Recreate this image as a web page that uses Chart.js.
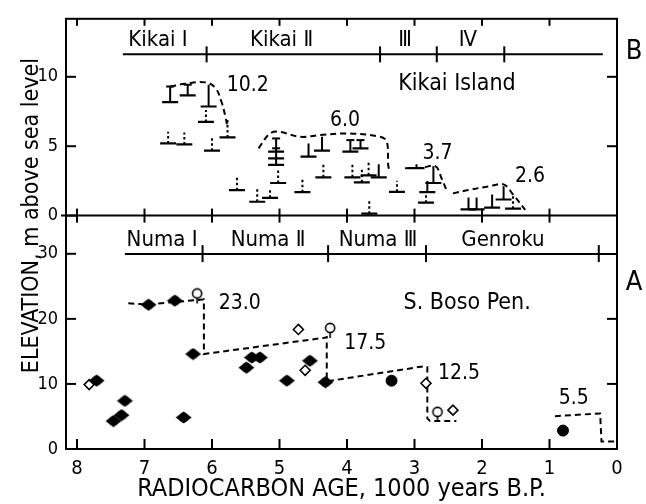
<!DOCTYPE html>
<html>
<head>
<meta charset="utf-8">
<script src="https://cdn.jsdelivr.net/npm/chart.js@4.4.0/dist/chart.umd.min.js"></script>
<style>
html, body { margin: 0; padding: 0; background: #fff; }
</style>
</head>
<body>
<canvas id="chart" width="646" height="504"></canvas>
<script>
'use strict';

const FONT = "'DejaVu Sans Condensed', 'Liberation Sans Narrow', sans-serif";

// ─── axes ─────────────────────────────────────────────
const ageTicks = [0, 1, 2, 3, 4, 5, 6, 7, 8];
const kikaiTicks = [0, 5, 10];
const bosoTicks = [0, 10, 20, 30];

// ─── B: Kikai Island samples (age, base elevation, top of range) ──
const kikaiAge  = [6.62, 6.36, 6.05, 6.09, 6.65, 6.41, 6.00, 5.77, 5.05, 5.05, 5.05, 5.02, 5.14, 5.33, 5.63, 4.66, 4.57, 4.37,
                   3.95, 3.80, 4.35, 3.92, 3.78, 3.68, 3.53, 3.26, 3.67, 2.97, 2.72, 2.81, 2.83, 2.20, 2.08, 1.85, 1.68, 1.54];
const kikaiLow  = [8.18, 8.66, 7.86, 6.75, 5.20, 5.13, 4.68, 5.63, 4.61, 4.13, 3.66, 2.35, 1.28, 1.00, 1.83, 1.69, 4.25, 4.68,
                   4.61, 4.85, 2.76, 2.76, 2.40, 2.90, 2.76, 1.71, 0.14, 3.42, 2.35, 1.69, 0.93, 0.45, 0.45, 0.57, 1.16, 0.50];
const kikaiHigh = [9.30, 9.43, 9.43, 7.60, 6.05, 5.99, 5.60, 6.90, 5.56, 4.85, 4.13, 3.42, 2.00, 1.92, 2.87, 2.71, 5.20, 5.68,
                   5.44, 5.44, 3.78, 3.78, 3.30, 3.85, 3.70, 2.52, 1.16, 3.70, 3.56, 2.50, 1.64, 1.30, 1.30, 1.52, 2.12, 1.40];
const kikaiSolid = [1, 1, 1, 0, 0, 0, 0, 0, 1, 1, 1, 0, 0, 0, 0, 0, 1, 1,
                    1, 1, 0, 0, 0, 0, 1, 0, 0, 1, 1, 1, 0, 1, 1, 1, 1, 0];
const kikaiCap   = [1, 1, 0, 0, 0, 0, 0, 0, 1, 1, 0, 0, 0, 0, 0, 0, 0, 0,
                    1, 1, 0, 0, 0, 0, 0, 0, 0, 0, 0, 0, 0, 0, 0, 0, 0, 0];

// terrace envelopes, Kikai
const env102Age = [6.62, 6.40, 6.10, 5.95, 5.86, 5.80, 5.77];
const env102Elv = [9.30, 9.50, 9.60, 9.20, 8.20, 7.10, 6.30];
const env60Age  = [5.31, 5.14, 5.00, 4.70, 4.40, 4.00, 3.51, 3.41, 3.39, 3.37];
const env60Elv  = [4.85, 5.92, 6.04, 5.68, 5.80, 5.92, 5.68, 5.33, 3.66, 3.19];
const env37Age  = [3.14, 2.89, 2.69, 2.60, 2.52];
const env37Elv  = [3.42, 3.45, 3.56, 2.70, 1.76];
const env26Age  = [2.43, 2.20, 1.90, 1.68, 1.54, 1.36];
const env26Elv  = [1.60, 1.85, 2.10, 2.25, 1.52, 0.41];

// ─── A: S. Boso Peninsula ─────────────────────────────
const bosoFilledAge = [6.94, 6.55, 6.28, 5.49, 5.41, 5.29, 4.89, 4.55, 4.32, 7.71, 7.29, 7.46, 7.34, 6.42];
const bosoFilledElv = [22.16, 22.8, 14.6, 12.5, 14.06, 14.06, 10.5, 13.56, 10.26, 10.5, 7.4, 4.3, 5.2, 4.85];
const bosoDotAge = [3.34, 0.80];
const bosoDotElv = [10.5, 2.83];
const bosoCircleAge = [6.22, 4.25, 2.66];
const bosoCircleElv = [23.9, 18.6, 5.7];
const bosoDiamondAge = [7.82, 4.72, 4.62, 2.83, 2.43];
const bosoDiamondElv = [9.9, 18.37, 12.1, 10.1, 5.97];

const stepAge = [7.24, 6.94, 6.55, 6.22, 6.12, 6.12, 4.33, 4.30, 4.30, 2.87, 2.81, 2.81, 2.77, 2.38];
const stepElv = [22.4, 22.2, 22.6, 22.9, 23.0, 14.6, 17.1, 17.2, 10.4, 12.7, 12.6, 4.7, 4.3, 4.3];
const step55Age = [0.92, 0.25, 0.23, 0.00];
const step55Elv = [5.05, 5.46, 1.15, 1.15];

// ─── annotations ──────────────────────────────────────
const kikaiPeriods = ['Kikai Ⅰ', 'Kikai Ⅱ', 'Ⅲ', 'Ⅳ'];
const kikaiPeriodAge = [6.80, 4.97, 3.14, 2.21];
const kikaiBounds = [6.08, 3.51, 2.67, 1.67];
const kikaiSpan = [7.32, 0.21];
const bosoPeriods = ['Numa Ⅰ', 'Numa Ⅱ', 'Numa Ⅲ', 'Genroku'];
const bosoPeriodAge = [6.74, 5.17, 3.54, 1.69];
const bosoBounds = [6.14, 4.28, 2.83, 0.27];
const bosoSpan = [7.29, 0.0];

const kikaiLevels = ['10.2', '6.0', '3.7', '2.6'];
const kikaiLevelAge = [5.47, 4.03, 2.66, 1.29];
const kikaiLevelElv = [9.34, 6.86, 4.49, 2.85];
const bosoLevels = ['23.0', '17.5', '12.5', '5.5'];
const bosoLevelAge = [5.59, 3.73, 2.34, 0.64];
const bosoLevelElv = [22.4, 16.14, 11.6, 7.8];

const pts = (xs, ys) => xs.map((x, i) => ({ x, y: ys[i] }));

// point glyphs
function blobGlyph() {
    const c = document.createElement('canvas');
    c.width = 17; c.height = 13;
    const g = c.getContext('2d');
    g.fillStyle = '#000';
    g.beginPath();
    g.moveTo(0.5, 6.5); g.lineTo(8.5, 0.5); g.lineTo(16.5, 6.5); g.lineTo(8.5, 12.5); g.closePath();
    g.fill();
    g.beginPath(); g.arc(8.5, 6.5, 5, 0, Math.PI * 2); g.fill();
    return c;
}
function circleStemGlyph() {
    const c = document.createElement('canvas');
    c.width = 14; c.height = 26;
    const g = c.getContext('2d');
    g.strokeStyle = '#000'; g.fillStyle = '#fff'; g.lineWidth = 1.6;
    g.beginPath(); g.arc(7, 13, 4.6, 0, Math.PI * 2); g.fill(); g.stroke();
    g.beginPath(); g.moveTo(7, 17.6); g.lineTo(7, 23); g.stroke();
    return c;
}

const dashLine = (data, yAxisID, tension) => ({
    type: 'scatter', data, yAxisID, showLine: true, tension,
    borderColor: '#000', borderWidth: 2, borderDash: [6, 4],
    pointRadius: 0, order: 5
});

const datasets = [
    dashLine(pts(env102Age, env102Elv), 'yB', 0.4),
    dashLine(pts(env60Age, env60Elv), 'yB', 0.35),
    dashLine(pts(env37Age, env37Elv), 'yB', 0.35),
    dashLine(pts(env26Age, env26Elv), 'yB', 0.35),
    dashLine(pts(stepAge, stepElv), 'yA', 0),
    dashLine(pts(step55Age, step55Elv), 'yA', 0),
    {
        label: 'kikai', data: pts(kikaiAge, kikaiLow), yAxisID: 'yB',
        pointStyle: 'line', pointRadius: 8, borderColor: '#000', borderWidth: 2.2, order: 1
    },
    {
        data: pts(bosoFilledAge, bosoFilledElv), yAxisID: 'yA',
        pointStyle: blobGlyph(), order: 1
    },
    {
        data: pts(bosoDotAge, bosoDotElv), yAxisID: 'yA',
        pointStyle: 'circle', pointRadius: 5.5, backgroundColor: '#000', borderColor: '#000', order: 1
    },
    {
        data: pts(bosoCircleAge, bosoCircleElv), yAxisID: 'yA',
        pointStyle: circleStemGlyph(), order: 1
    },
    {
        data: pts(bosoDiamondAge, bosoDiamondElv), yAxisID: 'yA',
        pointStyle: 'rectRot', pointRadius: 5, backgroundColor: '#fff', borderColor: '#000', borderWidth: 1.6, order: 1
    }
];

function line(ctx, x1, y1, x2, y2) {
    ctx.beginPath(); ctx.moveTo(x1, y1); ctx.lineTo(x2, y2); ctx.stroke();
}

const framePlugin = {
    id: 'frame',
    beforeDatasetsDraw(chart) {
        const { ctx, chartArea: a, scales } = chart;
        const x = scales.x, yA = scales.yA, yB = scales.yB;
        const mid = yB.getPixelForValue(0);
        ctx.save();
        ctx.strokeStyle = '#000';
        ctx.lineWidth = 2;
        ctx.strokeRect(a.left, a.top, a.right - a.left, a.bottom - a.top);
        line(ctx, a.left - 5, mid, a.right, mid);

        ageTicks.forEach(v => {
            const px = x.getPixelForValue(v);
            if (v === 0) return;
            line(ctx, px, a.bottom, px, a.bottom - 10);
            line(ctx, px, a.top, px, a.top + 7);
            line(ctx, px, mid - 7, px, mid + 7);
        });
        kikaiTicks.forEach(v => line(ctx, a.left, yB.getPixelForValue(v), a.left + 10, yB.getPixelForValue(v)));
        bosoTicks.forEach(v => line(ctx, a.left, yA.getPixelForValue(v), a.left + 10, yA.getPixelForValue(v)));
        [5, 10].forEach(v => line(ctx, a.right, yB.getPixelForValue(v), a.right - 10, yB.getPixelForValue(v)));
        [10, 20].forEach(v => line(ctx, a.right, yA.getPixelForValue(v), a.right - 10, yA.getPixelForValue(v)));

        // period rows
        const kY = yB.getPixelForValue(11.62);
        line(ctx, x.getPixelForValue(kikaiSpan[0]), kY, x.getPixelForValue(kikaiSpan[1]), kY);
        kikaiBounds.forEach(v => line(ctx, x.getPixelForValue(v), kY - 8, x.getPixelForValue(v), kY + 8));
        const bY = yA.getPixelForValue(29.95);
        line(ctx, x.getPixelForValue(bosoSpan[0]), bY, x.getPixelForValue(bosoSpan[1]), bY);
        bosoBounds.forEach(v => line(ctx, x.getPixelForValue(v), bY - 9, x.getPixelForValue(v), bY + 8));

        ctx.fillStyle = '#000';
        ctx.textAlign = 'center';
        ctx.textBaseline = 'middle';
        ctx.font = '22px ' + FONT;
        kikaiPeriods.forEach((t, i) => ctx.fillText(t, x.getPixelForValue(kikaiPeriodAge[i]), yB.getPixelForValue(12.62)));
        bosoPeriods.forEach((t, i) => ctx.fillText(t, x.getPixelForValue(bosoPeriodAge[i]), yA.getPixelForValue(32.08)));
        ctx.font = '23px ' + FONT;
        ctx.fillText('Kikai Island', x.getPixelForValue(2.37), yB.getPixelForValue(9.48));
        ctx.fillText('S. Boso Pen.', x.getPixelForValue(2.22), yA.getPixelForValue(22.36));

        ctx.font = '21px ' + FONT;
        kikaiLevels.forEach((t, i) => ctx.fillText(t, x.getPixelForValue(kikaiLevelAge[i]), yB.getPixelForValue(kikaiLevelElv[i])));
        bosoLevels.forEach((t, i) => ctx.fillText(t, x.getPixelForValue(bosoLevelAge[i]), yA.getPixelForValue(bosoLevelElv[i])));

        ctx.font = '27px ' + FONT;
        ctx.fillText('B', 634, yB.getPixelForValue(11.8));
        ctx.fillText('A', 634, yA.getPixelForValue(25.5));

        // vertical axis title, baseline just left of the tick labels
        ctx.translate(38, mid);
        ctx.rotate(-Math.PI / 2);
        ctx.textBaseline = 'alphabetic';
        ctx.font = '23px ' + FONT;
        ctx.fillText('ELEVATION, m above sea level', 0, 0);
        ctx.restore();
    },
    afterDatasetsDraw(chart) {
        // stems above each Kikai sample base
        const { ctx, scales } = chart;
        const yB = scales.yB, x = scales.x;
        ctx.save();
        ctx.strokeStyle = '#000';
        ctx.lineWidth = 2;
        kikaiAge.forEach((age, i) => {
            const px = x.getPixelForValue(age);
            const lo = yB.getPixelForValue(kikaiLow[i]);
            const hi = yB.getPixelForValue(kikaiHigh[i]);
            ctx.setLineDash(kikaiSolid[i] ? [] : [2.5, 2.5]);
            line(ctx, px, lo, px, hi);
            if (kikaiCap[i]) {
                ctx.setLineDash([]);
                line(ctx, px - 4, hi, px + 4, hi);
            }
        });
        ctx.restore();
    }
};

const tickFont = { family: FONT, size: 18 };
const yAxis = (min, max, ticks, weight) => ({
    type: 'linear', position: 'left', stack: 'panels', stackWeight: weight,
    min, max,
    afterBuildTicks: s => { s.ticks = ticks.map(value => ({ value })); },
    afterFit: s => { s.width = 66; },
    grid: { display: false, drawTicks: false },
    border: { display: false },
    ticks: { padding: 8, color: '#000', font: tickFont }
});

new Chart(document.getElementById('chart'), {
    type: 'scatter',
    data: { datasets },
    options: {
        responsive: false,
        animation: false,
        devicePixelRatio: 1,
        layout: { padding: { top: 14, right: 29, left: 0, bottom: 0 } },
        plugins: { legend: { display: false }, tooltip: { enabled: false } },
        scales: {
            // stacked axes are placed bottom-up in declaration order
            yA: yAxis(0, 35.87, bosoTicks, 236),
            yB: yAxis(0, 14.18, kikaiTicks, 199),
            x: {
                type: 'linear', reverse: true, min: 0, max: 8.163,
                afterBuildTicks: s => { s.ticks = ageTicks.map(value => ({ value })); },
                afterFit: s => { s.height = 55; },
                grid: { display: false, drawTicks: false },
                border: { display: false },
                ticks: { padding: 8, color: '#000', font: { family: FONT, size: 20 } },
                title: {
                    display: true, text: 'RADIOCARBON AGE, 1000 years B.P.',
                    color: '#000', font: { family: FONT, size: 25 }, padding: { top: 0, bottom: 0 }
                }
            }
        }
    },
    plugins: [framePlugin]
});
</script>
</body>
</html>
